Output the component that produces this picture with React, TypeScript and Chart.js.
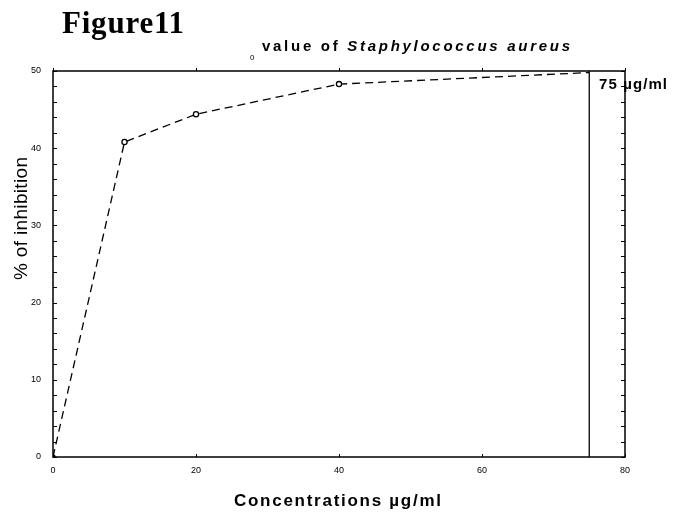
import React, { useEffect, useRef } from "react";
import { Chart, registerables } from "chart.js";

Chart.register(...registerables);

const concentrations = [0, 10, 20, 40, 75];
const inhibition = [0, 40.8, 44.4, 48.3, 49.8];
const cutoffX = [75, 75];
const cutoffY = [0, 50];
const xTicks = [0, 20, 40, 60, 80];
const yLabelStep = 10;

const FONT = "'Liberation Sans', Arial, sans-serif";

function spacingFor(ctx: CanvasRenderingContext2D, text: string, width: number) {
  (ctx as any).letterSpacing = "0px";
  const w = ctx.measureText(text).width;
  return (width - w) / Math.max(1, text.length - 1);
}

function fitText(ctx: CanvasRenderingContext2D, text: string, x: number, y: number, width: number) {
  const sp = spacingFor(ctx, text, width);
  (ctx as any).letterSpacing = sp + "px";
  ctx.fillText(text, x, y);
  (ctx as any).letterSpacing = "0px";
}

const framePlugin = {
  id: "frame",
  afterDraw(chart: any) {
    const { ctx, chartArea: a, scales } = chart;
    const xs = scales.x;
    const ys = scales.y;
    ctx.save();
    ctx.strokeStyle = "#000";
    ctx.lineWidth = 1.5;
    ctx.strokeRect(a.left, a.top, a.right - a.left, a.bottom - a.top);
    ctx.lineWidth = 1;
    ctx.beginPath();
    ys.ticks.forEach((t: any) => {
      const py = Math.round(ys.getPixelForValue(t.value)) + 0.5;
      ctx.moveTo(a.left, py);
      ctx.lineTo(a.left + 4, py);
      ctx.moveTo(a.right, py);
      ctx.lineTo(a.right - 4, py);
    });
    xs.ticks.forEach((t: any) => {
      const px = Math.round(xs.getPixelForValue(t.value)) + 0.5;
      ctx.moveTo(px, a.bottom);
      ctx.lineTo(px, a.bottom - 3);
      ctx.moveTo(px, a.top);
      ctx.lineTo(px, a.top - 3);
    });
    ctx.stroke();

    ctx.fillStyle = "#000";
    ctx.textBaseline = "alphabetic";
    ctx.textAlign = "left";
    ctx.font = "bold 31px 'Liberation Serif', 'Times New Roman', serif";
    fitText(ctx, "Figure11", 62, 33, 122);

    ctx.font = "8px " + FONT;
    ctx.fillText("0", 250, 60);

    const part1 = "value of ";
    const part2 = "Staphylococcus aureus";
    ctx.font = "bold 15px " + FONT;
    const w1 = ctx.measureText(part1).width;
    ctx.font = "italic bold 15px " + FONT;
    const w2 = ctx.measureText(part2).width;
    const total = part1.length + part2.length - 1;
    const sp = (308 - w1 - w2) / total;
    (ctx as any).letterSpacing = sp + "px";
    ctx.font = "bold 15px " + FONT;
    ctx.fillText(part1, 262, 51);
    const w1s = w1 + sp * part1.length;
    ctx.font = "italic bold 15px " + FONT;
    ctx.fillText(part2, 262 + w1s, 51);
    (ctx as any).letterSpacing = "0px";

    ctx.font = "bold 15px " + FONT;
    fitText(ctx, "75 µg/ml", 599, 89, 68);

    ctx.font = "bold 17px " + FONT;
    fitText(ctx, "Concentrations µg/ml", 234, 506, 207);

    ctx.save();
    ctx.translate(27, 280);
    ctx.rotate(-Math.PI / 2);
    ctx.font = "19px " + FONT;
    fitText(ctx, "% of inhibition", 0, 0, 123);
    ctx.restore();
    ctx.restore();
  },
};

export default function App() {
  const ref = useRef<HTMLCanvasElement | null>(null);
  useEffect(() => {
    document.body.style.margin = "0";
    const canvas = ref.current!;
    const chart = new Chart(canvas, {
      type: "scatter",
      data: {
        datasets: [
          {
            data: concentrations.map((c, i) => ({ x: c, y: inhibition[i] })),
            showLine: true,
            borderColor: "#000",
            borderWidth: 1.3,
            borderDash: [8, 5],
            pointRadius: [2, 2.6, 2.6, 2.6, 0],
            pointBackgroundColor: "#fff",
            pointBorderColor: "#000",
            pointBorderWidth: 1.3,
          },
          {
            data: cutoffX.map((c, i) => ({ x: c, y: cutoffY[i] })),
            showLine: true,
            borderColor: "#000",
            borderWidth: 1.3,
            pointRadius: 0,
          },
        ],
      },
      options: {
        responsive: false,
        animation: false,
        devicePixelRatio: 1,
        layout: { autoPadding: false, padding: { top: 71, right: 49, left: 0, bottom: 0 } },
        plugins: { legend: { display: false }, tooltip: { enabled: false }, title: { display: false } },
        scales: {
          x: {
            type: "linear",
            min: 0,
            max: 80,
            afterBuildTicks: (s: any) => {
              s.ticks = xTicks.map((v) => ({ value: v }));
            },
            afterFit: (s: any) => {
              s.height = 55;
            },
            grid: { display: false },
            border: { display: false },
            ticks: { color: "#000", font: { family: FONT, size: 9 }, padding: 0, maxRotation: 0 },
          },
          y: {
            type: "linear",
            min: 0,
            max: 50,
            afterFit: (s: any) => {
              s.width = 53;
            },
            grid: { display: false },
            border: { display: false },
            ticks: {
              stepSize: 2,
              autoSkip: false,
              color: "#000",
              font: { family: FONT, size: 9 },
              padding: 4,
              callback: (v: any) => (Number(v) % yLabelStep === 0 ? String(v) : ""),
            },
          },
        },
      },
      plugins: [framePlugin],
    });
    return () => chart.destroy();
  }, []);
  return (
    <div style={{ position: "fixed", left: 0, top: 0, width: 674, height: 512, background: "#fff" }}>
      <canvas ref={ref} width={674} height={512} style={{ display: "block" }} />
    </div>
  );
}
